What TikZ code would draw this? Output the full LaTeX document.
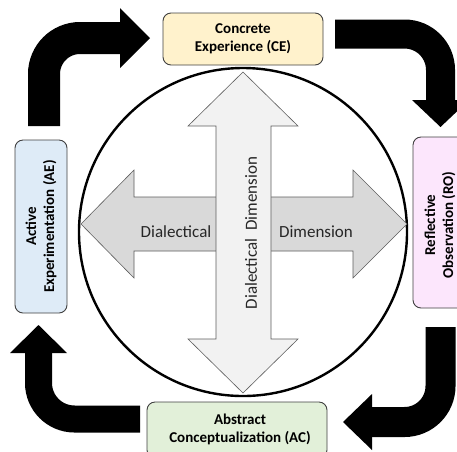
\documentclass[tikz,border=0pt]{standalone}
\usepackage{fontspec}
\setmainfont{Carlito}
\usetikzlibrary{calc}
\definecolor{ceFill}{HTML}{FFF2CC}
\definecolor{roFill}{HTML}{FCE6FC}
\definecolor{aeFill}{HTML}{DEEBF7}
\definecolor{acFill}{HTML}{E2F0D9}
\definecolor{boxLine}{HTML}{404040}
\definecolor{hArrow}{HTML}{D9D9D9}
\definecolor{vArrow}{HTML}{F2F2F2}
\definecolor{txt}{HTML}{262626}
\begin{document}
\begin{tikzpicture}[x=1pt,y=-1pt,
  stage/.style={draw=boxLine, line width=0.9pt, rounded corners=8pt, inner sep=0pt,
    align=center, font=\fontsize{15}{18}\selectfont\bfseries, text=black},
  bend/.style={line width=#1, draw=black, rounded corners=36pt},
  tip/.style={fill=black},
  dimarrow/.style={draw=boxLine!85, line width=0.6pt, line join=miter},
  dimtext/.style={font=\fontsize{17}{20}\selectfont, text=txt, inner sep=0pt}
]
\useasboundingbox (0,0) rectangle (457,451);
\clip (0,0) rectangle (457,451);

% outer ring
\node[circle, draw=black, line width=2.4pt, minimum size=328pt, inner sep=0pt] (ring) at (243,232) {};

% horizontal double arrow
\path[dimarrow, fill=hArrow] (81,224) -- (134,170) -- (134,197) -- (353,197) -- (353,170)
  -- (407,224) -- (353,278) -- (353,251) -- (134,251) -- (134,278) -- cycle;
% vertical double arrow (on top)
\path[dimarrow, fill=vArrow] (243,72) -- (298,126) -- (271,126) -- (271,339) -- (298,339)
  -- (243,393) -- (188,339) -- (216,339) -- (216,126) -- (188,126) -- cycle;

\node[dimtext] (dleft) at (176,232) {Dialectical};
\node[dimtext] (dright) at (316,232) {Dimension};
\node[dimtext, rotate=90] (dvert) at (251,233) {Dialectical\ \ Dimension};

% four learning stages
\node[stage, fill=ceFill, minimum width=160pt, minimum height=52pt] (ce) at (243,39)
  {Concrete\\Experience (CE)};
\node[stage, fill=roFill, minimum width=57pt, minimum height=171pt] (ro) at (441.5,222.5) {};
\node[font=\fontsize{15}{18}\selectfont\bfseries, align=center, rotate=90] (rotext) at (440,225)
  {Reflective\\Observation (RO)};
\node[stage, fill=acFill, minimum width=180pt, minimum height=56pt] (ac) at (237,430) {};
\node[font=\fontsize{15}{18}\selectfont\bfseries, align=center] (actext) at (240,429.5)
  {Abstract\\Conceptualization (AC)};
\node[stage, fill=aeFill, minimum width=173pt, minimum height=52pt, rotate=90] (ae) at (41,226.5)
  {Active\\Experimentation (AE)};

% bent cycle arrows
\coordinate (a1s) at (44,126);  \coordinate (a1c) at (44,38);  \coordinate (a1e) at (121,38);
\coordinate (a2s) at (335,34);  \coordinate (a2c) at (440.5,34); \coordinate (a2e) at (440.5,101);
\coordinate (a3s) at (440.5,327); \coordinate (a3c) at (440.5,422); \coordinate (a3e) at (371,422);
\coordinate (a4s) at (140,419); \coordinate (a4c) at (38.5,419); \coordinate (a4e) at (38.5,352);

\draw[bend=32pt] (a1s) -- (a1c) -- (a1e);
\fill[tip] (120,8) -- (150,38) -- (120,68) -- cycle;

\draw[bend=29pt] (a2s) -- (a2c) -- (a2e);
\fill[tip] (412,100) -- (440.5,127) -- (469,100) -- cycle;

\draw[bend=30pt] (a3s) -- (a3c) -- (a3e);
\fill[tip] (372,394) -- (343,422) -- (372,450) -- cycle;

\draw[bend=27pt] (a4s) -- (a4c) -- (a4e);
\fill[tip] (10,353) -- (38.5,325) -- (67,353) -- cycle;
\end{tikzpicture}
\end{document}
